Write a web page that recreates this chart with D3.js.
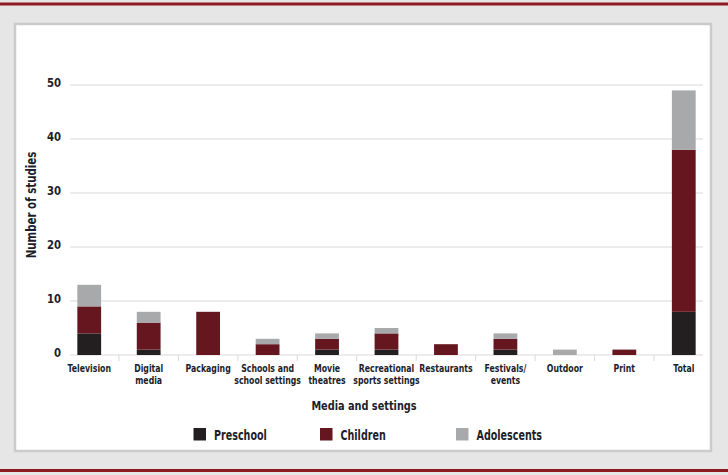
<!DOCTYPE html>
<html>
<head>
<meta charset="utf-8">
<script src="https://cdn.jsdelivr.net/npm/d3@7"></script>
<style>
  body { margin: 0; background: #e6e6e6; }
  svg { display: block; }
  text { font-family: "DejaVu Sans", sans-serif; font-weight: bold; fill: #1d1d29; }
</style>
</head>
<body>
<svg id="chart"></svg>
<script>
// categories (label lines) and stacked series
const categories = [
  ["Television"],
  ["Digital", "media"],
  ["Packaging"],
  ["Schools and", "school settings"],
  ["Movie", "theatres"],
  ["Recreational", "sports settings"],
  ["Restaurants"],
  ["Festivals/", "events"],
  ["Outdoor"],
  ["Print"],
  ["Total"]
];
const preschool   = [4, 1, 0, 0, 1, 1, 0, 1, 0, 0, 8];
const children    = [5, 5, 8, 2, 2, 3, 2, 2, 0, 1, 30];
const adolescents = [4, 2, 0, 1, 1, 1, 0, 1, 1, 0, 11];
const seriesNames = ["Preschool", "Children", "Adolescents"];
const seriesColors = ["#231f20", "#65161f", "#a7a9ab"];
const yTicks = [0, 10, 20, 30, 40, 50];

const W = 728, H = 475;
// the original face is a narrow humanist sans; squeeze DejaVu to match
const squeeze = 0.71;
const svg = d3.select("#chart").attr("width", W).attr("height", H);

// frame: red rules and white panel
svg.append("rect").attr("x", 0).attr("y", 2.5).attr("width", W).attr("height", 3).attr("fill", "#8e1b1f");
svg.append("rect").attr("x", 0).attr("y", 469).attr("width", W).attr("height", 3).attr("fill", "#8e1b1f");
svg.append("rect").attr("x", 15).attr("y", 24).attr("width", 696).attr("height", 427)
  .attr("fill", "#fff").attr("stroke", "#cbcbcb").attr("stroke-width", 2.5);

const keys = d3.range(categories.length);
const table = keys.map(i => ({ i, Preschool: preschool[i], Children: children[i], Adolescents: adolescents[i] }));
const stacked = d3.stack().keys(seriesNames)(table);

const x = d3.scaleBand().domain(keys).range([59.5, 713.5]).paddingInner(0.6).paddingOuter(0.3);
const step = x.step();
const y = d3.scaleLinear().domain([0, 50]).range([355, 85]);
const gridX0 = 70, gridX1 = 703;

// gridlines
svg.append("g").selectAll("line").data(yTicks).join("line")
  .attr("x1", gridX0).attr("x2", gridX1)
  .attr("y1", d => y(d)).attr("y2", d => y(d))
  .attr("stroke", "#d9d9d9").attr("stroke-width", 1);

// category separator ticks below the axis
const x0 = x.range()[0];
svg.append("g").selectAll("line").data(d3.range(1, categories.length)).join("line")
  .attr("x1", d => x0 + d * step).attr("x2", d => x0 + d * step)
  .attr("y1", y(0)).attr("y2", y(0) + 6)
  .attr("stroke", "#d9d9d9").attr("stroke-width", 1);

// y tick labels
svg.append("g").selectAll("text").data(yTicks).join("text")
  .attr("transform", d => `translate(61,${y(d) + 1.5}) scale(0.78,1)`)
  .attr("text-anchor", "end").attr("font-size", 13)
  .text(d => d);

// bars
svg.append("g").selectAll("g").data(stacked).join("g")
  .attr("fill", (d, i) => seriesColors[i])
  .selectAll("rect").data(d => d).join("rect")
  .attr("x", d => x(d.data.i))
  .attr("width", x.bandwidth())
  .attr("y", d => y(d[1]))
  .attr("height", d => y(d[0]) - y(d[1]));

// category labels
const lab = svg.append("g").selectAll("text").data(categories).join("text")
  .attr("text-anchor", "middle").attr("font-size", 11)
  .attr("transform", (d, i) => `translate(${x(i) + x.bandwidth() / 2},372) scale(${squeeze},1)`);
lab.selectAll("tspan").data(d => d).join("tspan")
  .attr("x", 0).attr("dy", (d, j) => j === 0 ? 0 : 12.5)
  .text(d => d);

// axis titles
svg.append("text").attr("transform", `translate(364,410) scale(${squeeze + 0.04},1)`).attr("text-anchor", "middle")
  .attr("font-size", 13).text("Media and settings");
svg.append("text").attr("transform", `translate(36,205) rotate(-90) scale(${squeeze + 0.05},1)`).attr("text-anchor", "middle")
  .attr("font-size", 13.5).text("Number of studies");

// legend
const legendX = [193.5, 320, 456];
const leg = svg.append("g").selectAll("g").data(seriesNames).join("g")
  .attr("transform", (d, i) => `translate(${legendX[i]},428)`);
leg.append("rect").attr("width", 12.5).attr("height", 12.5).attr("fill", (d, i) => seriesColors[i]);
leg.append("text").attr("transform", `translate(20.5,11.5) scale(${squeeze},1)`).attr("font-size", 13.5).text(d => d);
</script>
</body>
</html>
